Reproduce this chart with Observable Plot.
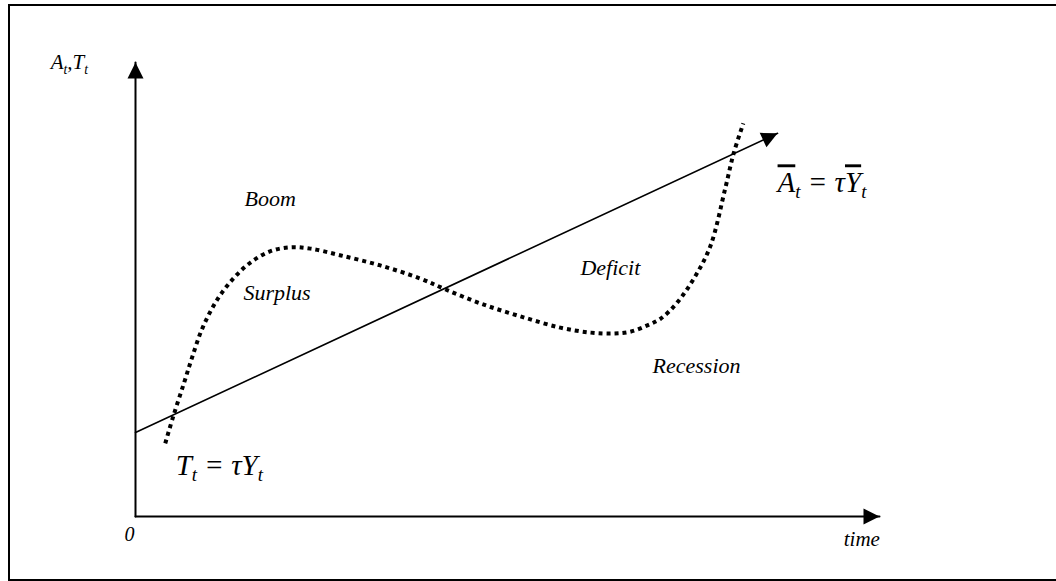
<!DOCTYPE html>
<html><head><meta charset="utf-8">
<script src="https://cdn.jsdelivr.net/npm/d3@7"></script>
<script src="https://cdn.jsdelivr.net/npm/@observablehq/plot@0.6"></script>
<style>
html,body{margin:0;padding:0;background:#fff;overflow:hidden;width:1056px;height:581px;}
#wrap{position:relative;width:1056px;height:581px;}
#frame{position:absolute;left:8px;top:4px;width:1100px;height:577px;border:2px solid #000;box-sizing:border-box;}
#chart{position:absolute;left:0;top:0;}
</style></head><body>
<div id="wrap"><div id="frame"></div><div id="chart"></div></div>
<script>
// ---- data (conceptual units: time 0..100, level 0..100) ----
const axisDomainX = [0, 100];
const axisDomainY = [0, 100];
// trend tax revenue line  T = tau * Ybar
const trendX = [0, 86.3];
const trendY = [18.5, 84.4];
// actual (cyclical) tax revenue, dotted curve
const cycleX = [4.0, 5.1, 6.5, 7.6, 9.0, 11.0, 13.2, 15.5, 18.1, 20.8, 23.5, 27.6, 32.9, 38.3, 41.7, 46.4, 51.7, 57.1, 61.2, 64.2, 66.5, 68.8, 70.6, 72.8, 75.3, 77.3, 79.3, 80.4, 81.7];
const cycleY = [16.1, 22.2, 29.3, 35.0, 41.5, 47.8, 52.5, 56.0, 58.4, 59.3, 59.0, 57.5, 55.3, 52.4, 50.0, 46.9, 44.1, 41.6, 40.5, 40.3, 40.7, 42.1, 43.6, 47.1, 53.1, 59.7, 72.5, 80.0, 86.6];
// region annotations
const regionLabels = ["Boom", "Surplus", "Deficit", "Recession"];
const regionX = [14.65, 14.5, 59.8, 69.5];
const regionY = [68.3, 47.6, 53.1, 31.5];
// equation annotations
const eqLabels = ["\\bar{A}_{t} = τ\\bar{Y}_{t}", "T_{t} = τY_{t}"];
const eqX = [86.3, 5.4];
const eqY = [71.4, 9.2];
// axis labels
const axisLabels = ["A_{t},T_{t}", "time"];
const axisLabelX = [-11.4, 95.2];
const axisLabelY = [98.5, -6.6];
const originLabel = ["0"];
const originX = [-0.8];
const originY = [-5.5];

// ---- layout ----
const W = 1056, H = 581;
const mL = 135, mR = 177, mT = 62, mB = 65;
const sx = d3.scaleLinear(axisDomainX, [mL, W - mR]);
const sy = d3.scaleLinear(axisDomainY, [H - mB, mT]);
const serif = "'Liberation Serif', 'Times New Roman', serif";

const trend = trendX.map((x, i) => ({x, y: trendY[i]}));
const cycle = cycleX.map((x, i) => ({x, y: cycleY[i]}));
const regions = regionLabels.map((t, i) => ({t, x: regionX[i], y: regionY[i]}));
const eqs = eqLabels.map((t, i) => ({t, x: eqX[i], y: eqY[i]}));
const axl = axisLabels.map((t, i) => ({t, x: axisLabelX[i], y: axisLabelY[i]}));
const orig = originLabel.map((t, i) => ({t, x: originX[i], y: originY[i]}));

// arrow heads (filled triangles, tip at the anchor point)
const tri = {draw(ctx, size) { const r = Math.sqrt(size / Math.PI); ctx.moveTo(0, 0); ctx.lineTo(r, 2 * r); ctx.lineTo(-r, 2 * r); ctx.closePath(); }};
const ang = (x0, y0, x1, y1) => Math.atan2(sx(x1) - sx(x0), -(sy(y1) - sy(y0))) * 180 / Math.PI;
const heads = [
  {x: axisDomainX[0], y: axisDomainY[1], a: ang(0, 0, 0, axisDomainY[1])},
  {x: axisDomainX[1], y: axisDomainY[0], a: ang(0, 0, axisDomainX[1], 0)},
  {x: trendX[1], y: trendY[1], a: ang(trendX[0], trendY[0], trendX[1], trendY[1])}
];
const axesLines = [
  [{x: 0, y: 0}, {x: 0, y: axisDomainY[1]}],
  [{x: 0, y: 0}, {x: axisDomainX[1], y: 0}]
];

const textCommon = {x: "x", y: "y", text: "t", textAnchor: "start", lineAnchor: "bottom", fontStyle: "italic", fontFamily: serif, fill: "#000"};

const plot = Plot.plot({
  width: W, height: H,
  marginLeft: mL, marginRight: mR, marginTop: mT, marginBottom: mB,
  x: {domain: axisDomainX, axis: null},
  y: {domain: axisDomainY, axis: null},
  style: {background: "transparent", overflow: "visible"},
  marks: [
    ...axesLines.map(l => Plot.line(l, {x: "x", y: "y", stroke: "#000", strokeWidth: 2})),
    Plot.line(trend, {x: "x", y: "y", stroke: "#000", strokeWidth: 1.6}),
    Plot.line(cycle, {x: "x", y: "y", curve: "catmull-rom", stroke: "#000", strokeWidth: 4, strokeDasharray: "4,4", strokeLinecap: "butt"}),
    Plot.dot(heads, {x: "x", y: "y", rotate: "a", symbol: tri, r: 8, fill: "#000", stroke: "none"}),
    Plot.text(regions, {...textCommon, fontSize: 22}),
    Plot.text(eqs, {...textCommon, fontSize: 29}),
    Plot.text(axl, {...textCommon, fontSize: 21}),
    Plot.text(orig, {...textCommon, textAnchor: "middle", fontSize: 20})
  ]
});
document.getElementById("chart").appendChild(plot);

// rich text: _{..} subscripts and \bar{..} overlines
const NS = "http://www.w3.org/2000/svg";
plot.querySelectorAll("text").forEach(el => {
  const s = el.textContent;
  if (!/_\{|\\bar\{/.test(s)) return;
  const fs = parseFloat(getComputedStyle(el).fontSize) || 20;
  const shift = 0.2 * fs;
  el.textContent = "";
  const re = /\\bar\{([^}]*)\}|_\{([^}]*)\}|([^\\_]+)/g;
  let m, lowered = false;
  while ((m = re.exec(s))) {
    const ts = document.createElementNS(NS, "tspan");
    if (m[2] !== undefined) {
      ts.textContent = m[2];
      ts.setAttribute("font-size", (0.65 * fs) + "px");
      if (!lowered) { ts.setAttribute("dy", shift); lowered = true; }
    } else {
      ts.textContent = m[1] !== undefined ? m[1] : m[3];
      if (m[1] !== undefined) ts.setAttribute("text-decoration", "overline");
      if (lowered) { ts.setAttribute("dy", -shift); lowered = false; }
    }
    el.appendChild(ts);
  }
});
</script>
</body></html>
